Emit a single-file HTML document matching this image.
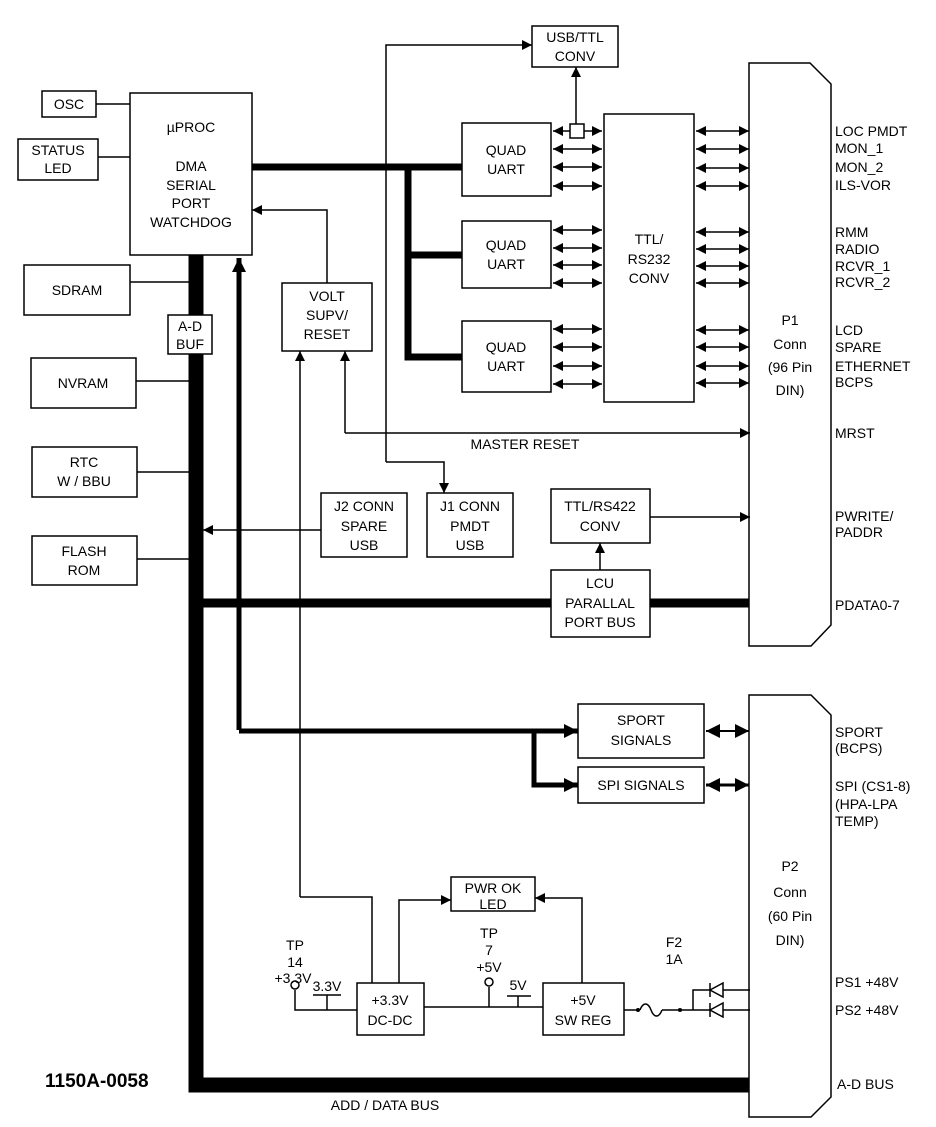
<!DOCTYPE html>
<html><head><meta charset="utf-8"><style>
html,body{margin:0;padding:0;background:#fff}
svg{display:block}
text{font-family:"Liberation Sans",sans-serif;font-size:14px;fill:#000}
</style></head><body>
<svg width="936" height="1127" viewBox="0 0 936 1127" xmlns="http://www.w3.org/2000/svg">
<defs>
<marker id="a" viewBox="0 0 10 10" refX="10" refY="5" markerWidth="10" markerHeight="10" markerUnits="userSpaceOnUse" orient="auto-start-reverse"><path d="M0,0L10,5L0,10z"/></marker>
<marker id="b" viewBox="0 0 10 10" refX="10" refY="5" markerWidth="14" markerHeight="14" markerUnits="userSpaceOnUse" orient="auto-start-reverse"><path d="M0,0L10,5L0,10z"/></marker>
</defs>
<g fill="none" stroke="#000" stroke-width="1.5">
<rect x="42" y="91" width="54" height="26"/>
<rect x="18" y="139" width="80" height="41"/>
<rect x="130" y="93" width="122" height="162"/>
<rect x="24" y="265" width="106" height="50"/>
<rect x="31" y="358" width="105" height="50"/>
<rect x="32" y="447" width="105" height="50"/>
<rect x="32" y="536" width="105" height="49"/>
<rect x="282" y="283" width="90" height="68"/>
<rect x="462" y="123" width="89" height="73"/>
<rect x="462" y="221" width="89" height="67"/>
<rect x="462" y="321" width="89" height="71"/>
<rect x="604" y="114" width="90" height="288"/>
<rect x="532" y="26" width="86" height="41"/>
<rect x="321" y="493" width="86" height="64"/>
<rect x="427" y="493" width="86" height="64"/>
<rect x="551" y="489" width="99" height="54"/>
<rect x="578" y="704" width="126" height="54"/>
<rect x="578" y="767" width="126" height="36"/>
<rect x="451" y="877" width="84" height="34"/>
<rect x="357" y="983" width="67" height="52"/>
<rect x="543" y="983" width="81" height="52"/>
<path d="M749,63H810L831,84V625L811,646H749Z"/>
<path d="M749,695H811L831,715V1097L811,1117H749Z"/>
<path d="M96,104H130M98,157H130M130,282H189M136,381H189M137,472H189M137,559H189"/>
<path d="M327,283V210H252" marker-end="url(#a)"/>
<path d="M300,897V351" marker-end="url(#a)"/>
<path d="M300,897H372V983"/>
<path d="M345,433V351" marker-end="url(#a)"/>
<path d="M345,433H750" marker-end="url(#a)"/>
<path d="M386,462V45H532" marker-end="url(#a)"/>
<path d="M386,462H444V493" marker-end="url(#a)"/>
<path d="M321,530H203" marker-end="url(#a)"/>
<path d="M650,517H750" marker-end="url(#a)"/>
<path d="M600,570V543" marker-end="url(#a)"/>
<path d="M576,124V67" marker-end="url(#a)"/>
<path d="M399,983V900H451" marker-end="url(#a)"/>
<path d="M582,983V898H535" marker-end="url(#a)"/>
<path d="M295,990V1010H357M313,995H341M327,995V1010"/>
<path d="M424,1007H543M489,987V1007M507,996H531M518,996V1007"/>
<path d="M624,1010H638M680,1010H750M640,1010c3,-8 8,-8 11,0s8,8 11,0"/>
<path d="M662,1010H680"/>
<path d="M693,1010V990H750"/>
</g>
<circle cx="295" cy="985" r="4" fill="#fff" stroke="#000" stroke-width="1.5"/>
<circle cx="489" cy="982" r="4" fill="#fff" stroke="#000" stroke-width="1.5"/>
<circle cx="638" cy="1010" r="2"/><circle cx="680" cy="1010" r="2"/>
<g fill="#fff" stroke="#000" stroke-width="1.5">
<path d="M710,990L723,983V997Z"/><path d="M710,1010L723,1003V1017Z"/>
<path d="M710,983V997M710,1003V1017"/>
</g>
<g stroke="#000" stroke-width="1.5" fill="none" marker-start="url(#a)" marker-end="url(#a)">
<line x1="553" y1="131" x2="602" y2="131"/><line x1="553" y1="149" x2="602" y2="149"/><line x1="553" y1="167" x2="602" y2="167"/><line x1="553" y1="186" x2="602" y2="186"/>
<line x1="553" y1="230" x2="602" y2="230"/><line x1="553" y1="248" x2="602" y2="248"/><line x1="553" y1="265" x2="602" y2="265"/><line x1="553" y1="283" x2="602" y2="283"/>
<line x1="553" y1="329" x2="602" y2="329"/><line x1="553" y1="347" x2="602" y2="347"/><line x1="553" y1="366" x2="602" y2="366"/><line x1="553" y1="384" x2="602" y2="384"/>
<line x1="696" y1="131" x2="749" y2="131"/><line x1="696" y1="149" x2="749" y2="149"/><line x1="696" y1="168" x2="749" y2="168"/><line x1="696" y1="186" x2="749" y2="186"/>
<line x1="696" y1="232" x2="749" y2="232"/><line x1="696" y1="249" x2="749" y2="249"/><line x1="696" y1="266" x2="749" y2="266"/><line x1="696" y1="283" x2="749" y2="283"/>
<line x1="696" y1="330" x2="749" y2="330"/><line x1="696" y1="347" x2="749" y2="347"/><line x1="696" y1="366" x2="749" y2="366"/><line x1="696" y1="383" x2="749" y2="383"/>
</g>
<g stroke="#000" fill="none" marker-start="url(#b)" marker-end="url(#b)">
<line x1="706" y1="731" x2="749" y2="731" stroke-width="2"/>
<line x1="706" y1="785" x2="749" y2="785" stroke-width="3"/>
</g>
<rect x="570" y="124" width="14" height="14" fill="#fff" stroke="#000" stroke-width="1.5"/>
<g stroke="#000" fill="none">
<path d="M196,255V1085H749" stroke-width="15"/>
<path d="M203,603H749" stroke-width="9"/>
<path d="M252,167H462M408,167V357H462M408,255H462" stroke-width="7"/>
<path d="M239,730V258" stroke-width="5" marker-end="url(#b)"/>
<path d="M239,731H578" stroke-width="5" marker-end="url(#b)"/>
<path d="M534,731V785H578" stroke-width="5" marker-end="url(#b)"/>
</g>
<rect x="168" y="315" width="44" height="39" fill="#fff" stroke="#000" stroke-width="1.5"/>
<rect x="551" y="570" width="99" height="67" fill="#fff" stroke="#000" stroke-width="1.5"/>
<g text-anchor="middle">
<text x="69" y="109">OSC</text>
<text x="58" y="155">STATUS</text><text x="58" y="173">LED</text>
<text x="191" y="132">µPROC</text>
<text x="191" y="171">DMA</text><text x="191" y="190">SERIAL</text><text x="191" y="208">PORT</text><text x="191" y="227">WATCHDOG</text>
<text x="77" y="295">SDRAM</text>
<text x="190" y="331">A-D</text><text x="190" y="349">BUF</text>
<text x="83" y="388">NVRAM</text>
<text x="84" y="467">RTC</text><text x="84" y="486">W / BBU</text>
<text x="84" y="556">FLASH</text><text x="84" y="575">ROM</text>
<text x="327" y="301">VOLT</text><text x="327" y="320">SUPV/</text><text x="327" y="339">RESET</text>
<text x="506" y="155">QUAD</text><text x="506" y="174">UART</text>
<text x="506" y="250">QUAD</text><text x="506" y="269">UART</text>
<text x="506" y="352">QUAD</text><text x="506" y="371">UART</text>
<text x="649" y="244">TTL/</text><text x="649" y="264">RS232</text><text x="649" y="283">CONV</text>
<text x="575" y="42">USB/TTL</text><text x="575" y="61">CONV</text>
<text x="364" y="511">J2 CONN</text><text x="364" y="531">SPARE</text><text x="364" y="550">USB</text>
<text x="470" y="511">J1 CONN</text><text x="470" y="531">PMDT</text><text x="470" y="550">USB</text>
<text x="600" y="511">TTL/RS422</text><text x="600" y="531">CONV</text>
<text x="600" y="588">LCU</text><text x="600" y="608">PARALLAL</text><text x="600" y="627">PORT BUS</text>
<text x="641" y="725">SPORT</text><text x="641" y="745">SIGNALS</text>
<text x="641" y="790">SPI SIGNALS</text>
<text x="493" y="893">PWR OK</text><text x="493" y="909">LED</text>
<text x="390" y="1005">+3.3V</text><text x="390" y="1025">DC-DC</text>
<text x="583" y="1005">+5V</text><text x="583" y="1025">SW REG</text>
<text x="525" y="449">MASTER RESET</text>
<text x="385" y="1110">ADD / DATA BUS</text>
<text x="295" y="950">TP</text><text x="295" y="967">14</text><text x="293" y="983">+3.3V</text>
<text x="327" y="991">3.3V</text>
<text x="489" y="938">TP</text><text x="489" y="955">7</text><text x="489" y="972">+5V</text>
<text x="518" y="990">5V</text>
<text x="674" y="947">F2</text><text x="674" y="964">1A</text>
<g style="font-size:17px">
<text x="790" y="325">P1</text><text x="790" y="349">Conn</text><text x="790" y="372">(96 Pin</text><text x="790" y="395">DIN)</text>
<text x="790" y="871">P2</text><text x="790" y="897">Conn</text><text x="790" y="921">(60 Pin</text><text x="790" y="945">DIN)</text>
</g>
</g>
<g>
<text x="835" y="136">LOC PMDT</text><text x="835" y="153">MON_1</text><text x="835" y="172">MON_2</text><text x="835" y="190">ILS-VOR</text>
<text x="835" y="237">RMM</text><text x="835" y="254">RADIO</text><text x="835" y="271">RCVR_1</text><text x="835" y="287">RCVR_2</text>
<text x="835" y="335">LCD</text><text x="835" y="352">SPARE</text><text x="835" y="371">ETHERNET</text><text x="835" y="387">BCPS</text>
<text x="835" y="438">MRST</text>
<text x="835" y="521">PWRITE/</text><text x="835" y="537">PADDR</text>
<text x="835" y="610">PDATA0-7</text>
<text x="835" y="737">SPORT</text><text x="835" y="753">(BCPS)</text>
<text x="835" y="791">SPI (CS1-8)</text><text x="835" y="809">(HPA-LPA</text><text x="835" y="826">TEMP)</text>
<text x="835" y="987">PS1 +48V</text><text x="835" y="1015">PS2 +48V</text>
<text x="837" y="1089">A-D BUS</text>
<text x="45" y="1087" style="font-size:19px;font-weight:bold">1150A-0058</text>
</g>
</svg>
</body></html>
